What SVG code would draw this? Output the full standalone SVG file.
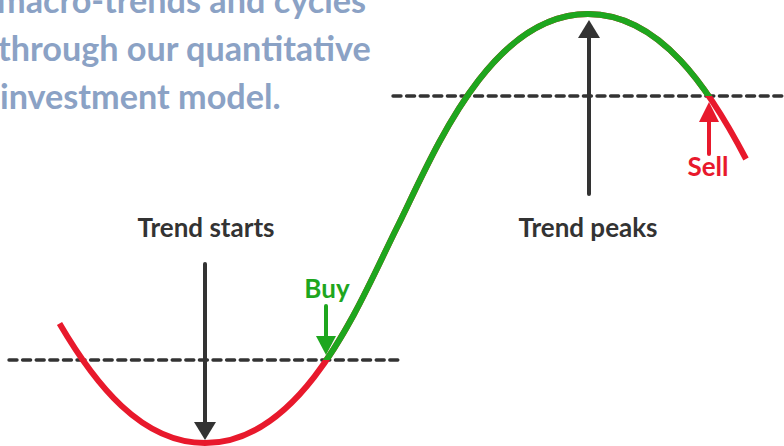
<svg xmlns="http://www.w3.org/2000/svg" width="784" height="446" viewBox="0 0 784 446">
<style>
.title{font-family:Lato,"Liberation Sans",sans-serif;font-weight:700;font-size:34.2px;fill:#8ba2c5}
.lbl{font-family:Lato,"Liberation Sans",sans-serif;font-weight:700;font-size:26px;text-anchor:middle}
.dash{stroke:#333;stroke-width:3.4;stroke-dasharray:8 5.6;stroke-linecap:round;fill:none}
.curve{fill:none;stroke-width:6}
.shaft{stroke-width:4;stroke-linecap:round;fill:none}
</style>
<defs>
<clipPath id="greenClip"><polygon points="250,0 784,0 784,96 600,96 600,360 250,360"/></clipPath>
<path id="wave" d="M59.5,323.5 C94.8,383.8 141,443 205,443 C305,443 361.5,298.5 396.5,228.5 C431.5,158.5 488,14 588,14 C660,14 709.5,88.9 746,159"/>
</defs>
<g id="title">
<text class="title" x="-3" y="13">macro-trends and cycles</text>
<text class="title" x="-2" y="61">through our quantitative</text>
<text class="title" x="0" y="109">investment model.</text>
</g>
<g id="levels">
<line class="dash" x1="9" y1="360" x2="402" y2="360"/>
<line class="dash" x1="393" y1="96" x2="784" y2="96"/>
</g>
<g id="curve">
<use href="#wave" class="curve" stroke="#e8192c"/>
<use href="#wave" class="curve" stroke="#1ea61e" clip-path="url(#greenClip)"/>
</g>
<g id="connectors">
<g id="arrow-start" fill="#333" stroke="#333">
<line class="shaft" x1="205" y1="264" x2="205" y2="424"/>
<polygon stroke="none" points="194,422 216,422 205,440"/>
</g>
<g id="arrow-peak" fill="#333" stroke="#333">
<line class="shaft" x1="589" y1="194" x2="589" y2="36"/>
<polygon stroke="none" points="578,38 600,38 589,20"/>
</g>
<g id="arrow-buy" fill="#1ea61e" stroke="#1ea61e">
<line class="shaft" x1="326" y1="306" x2="326" y2="338"/>
<polygon stroke="none" points="316,336 336,336 326,355"/>
</g>
<g id="arrow-sell" fill="#e8192c" stroke="#e8192c">
<line class="shaft" x1="709" y1="154" x2="709" y2="120"/>
<polygon stroke="none" points="699,122 719,122 709,102"/>
</g>
</g>
<g id="label-trend-starts"><text class="lbl" x="206" y="237" fill="#333">Trend starts</text></g>
<g id="label-trend-peaks"><text class="lbl" x="588" y="237" fill="#333">Trend peaks</text></g>
<g id="label-buy"><text class="lbl" x="327" y="298" fill="#1ea61e">Buy</text></g>
<g id="label-sell"><text class="lbl" x="708" y="176" fill="#e8192c">Sell</text></g>
</svg>
